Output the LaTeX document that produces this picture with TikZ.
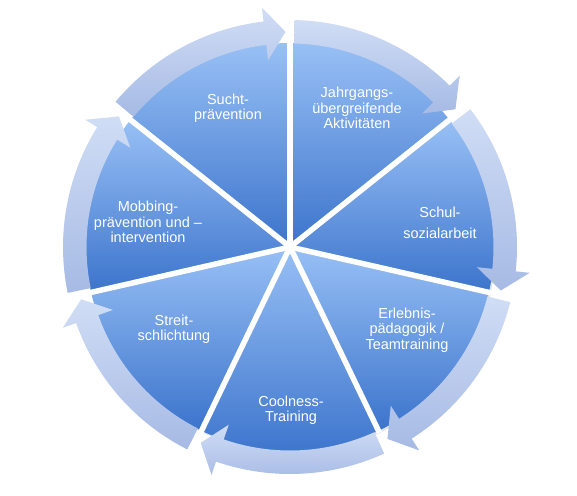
\documentclass[tikz,border=0pt]{standalone}
\usepackage{fontspec}
\setmainfont{Liberation Sans}
\usetikzlibrary{calc}
\definecolor{segtop}{RGB}{152,192,245}
\definecolor{segbot}{RGB}{60,116,204}
\definecolor{arrtop}{RGB}{208,221,245}
\definecolor{arrbot}{RGB}{166,186,228}
\tikzset{
  segfill/.style={top color=segtop, bottom color=segbot},
  arrfill/.style={top color=arrtop, bottom color=arrbot},
  gapline/.style={white, line width=5.5pt},
  lbl/.style={text=white, align=center, inner sep=0pt, font=\fontsize{14.5}{15.3}\selectfont}
}
\begin{document}
\begin{tikzpicture}[x=1pt,y=1pt]
\useasboundingbox (0,0) rectangle (577,495);
\fill[white] (0,0) rectangle (577,495);
\coordinate (C) at (290,248);
\def\R{204}
\def\ra{203.5}
\def\rb{227}
\def\rmid{215.25}
\def\ri{188}
\def\ro{241}
% shadows
\foreach \k in {0,...,6}{
  \pgfmathsetmacro{\s}{90-360/7*\k}
  \pgfmathsetmacro{\e}{\s-360/7}
  \fill[black, opacity=0.10] ($(C)+(1.5,-2)$) -- ++(\s:\R) arc[start angle=\s, end angle=\e, radius=\R] -- cycle;
}
% wedges
\foreach \k in {0,...,6}{
  \pgfmathsetmacro{\s}{90-360/7*\k}
  \pgfmathsetmacro{\e}{\s-360/7}
  \shade[segfill] (C) -- ++(\s:\R) arc[start angle=\s, end angle=\e, radius=\R] -- cycle;
}
% gaps
\foreach \k in {0,...,6}{
  \pgfmathsetmacro{\s}{90-360/7*\k}
  \draw[gapline] (C) -- ++(\s:\R+2);
}
\fill[white] (C) circle (3.5);
% arrows
\foreach \k in {0,...,6}{
  \pgfmathsetmacro{\t}{90-360/7*\k-1.2}
  \pgfmathsetmacro{\p}{90-360/7*(\k+1)+1.2}
  \pgfmathsetmacro{\b}{\p+5.5}
  \shade[arrfill] ($(C)+(\t:\rb)$) arc[start angle=\t, end angle=\b, radius=\rb]
     -- ($(C)+(\b:\ro)$) -- ($(C)+(\p:\rmid)$) -- ($(C)+(\b:\ri)$) -- ($(C)+(\b:\ra)$)
     arc[start angle=\b, end angle=\t, radius=\ra] -- cycle;
}
% labels
\node[lbl] (sucht) at (228,386.5) {Sucht-\\prävention};
\node[lbl] (jahr) at (357,387) {Jahrgangs-\\übergreifende\\Aktivitäten};
\node[lbl] (schul) at (440,272.5) {Schul-\\[6pt]sozialarbeit};
\node[lbl] (erleb) at (407,165) {Erlebnis-\\pädagogik /\\Teamtraining};
\node[lbl] (cool) at (291,84.5) {Coolness-\\Training};
\node[lbl] (streit) at (174,165.5) {Streit-\\schlichtung};
\node[lbl] (mobb) at (148,273) {Mobbing-\\prävention und –\\intervention};
\end{tikzpicture}
\end{document}
